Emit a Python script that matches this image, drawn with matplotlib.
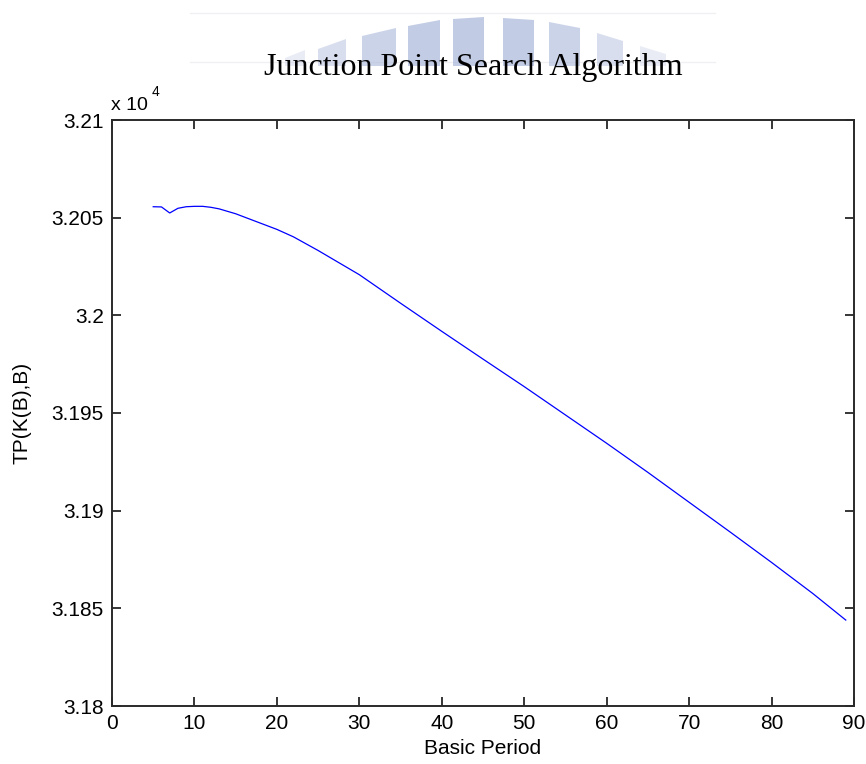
import matplotlib.pyplot as plt
from matplotlib.patches import Polygon
from matplotlib.ticker import FuncFormatter

# Basic period B vs. total profit TP(K(B),B)
basic_period = [5, 6, 7, 8, 9, 10, 11, 12, 13, 15, 17, 20, 22, 25, 30,
                35, 40, 45, 50, 55, 60, 65, 70, 75, 80, 85, 89]
total_profit = [32055.6, 32055.5, 32052.4, 32054.8, 32055.6, 32055.8, 32055.8,
                32055.3, 32054.5, 32052.0, 32048.8, 32044.0, 32040.2, 32033.2,
                32020.8, 32006.2, 31991.8, 31977.6, 31963.5, 31949.0, 31934.5,
                31919.6, 31904.3, 31889.0, 31873.5, 31857.6, 31844.0]

x_ticks = list(range(0, 91, 10))
y_ticks = [31800, 31850, 31900, 31950, 32000, 32050, 32100]

W, H = 866, 764
fig = plt.figure(figsize=(W / 100, H / 100), dpi=100)


def px(x, y):
    return (x / W, 1 - y / H)


# faint logo fan behind the title
fan = [
    (285, 305, 54, 4, 0.25),
    (318, 346, 44, 5, 0.45),
    (362, 396, 32, 4, 0.60),
    (408, 440, 23, 3, 0.70),
    (453, 484, 18, 1, 0.72),
    (503, 534, 19, -1, 0.70),
    (549, 580, 25, -3, 0.60),
    (597, 623, 37, -4, 0.45),
    (640, 666, 50, -4, 0.25),
]
for x0, x1, top, skew, a in fan:
    pts = [px(x0, 66), px(x1, 66), px(x1, top - skew), px(x0, top + skew)]
    fig.patches.append(Polygon(pts, closed=True, transform=fig.transFigure,
                               facecolor='#a9b7da', edgecolor='none', alpha=a,
                               zorder=0))
for yl in (13, 62):
    fig.add_artist(plt.Line2D([190 / W, 715 / W], [1 - yl / H] * 2,
                              transform=fig.transFigure, color='#f0f0f4',
                              lw=1.0, zorder=0))

fig.text(473 / W, 1 - 68 / H, 'Junction Point Search Algorithm',
         family='Liberation Serif', fontsize=23, ha='center', va='center')

ax = fig.add_axes([112 / W, 1 - 706 / H, 742 / W, 586 / H])
ax.plot(basic_period, total_profit, color='#0000ff', lw=0.9)

ax.set_xlim(0, 90)
ax.set_ylim(31800, 32100)
ax.set_xticks(x_ticks)
ax.set_yticks(y_ticks)
ax.yaxis.set_major_formatter(FuncFormatter(lambda v, p: f'{v / 1e4:g}'))

for s in ax.spines.values():
    s.set_linewidth(1.4)
    s.set_color('#2a2a2a')
ax.tick_params(direction='in', length=6.5, width=1.1, top=True, right=True,
               labelsize=15, colors='black')
ax.tick_params(axis='x', pad=6)
ax.tick_params(axis='y', pad=6)
for lab in ax.get_xticklabels() + ax.get_yticklabels():
    lab.set_family('Liberation Sans')

ax.set_xlabel('Basic Period', family='Liberation Sans', fontsize=15,
              labelpad=4)
ax.set_ylabel('TP(K(B),B)', family='Liberation Sans', fontsize=15,
              labelpad=14)

# exponent note above the y axis
fig.text(111 / W, 1 - 110 / H, 'x 10', family='Liberation Sans',
         fontsize=14, ha='left', va='baseline')
fig.text(152 / W, 1 - 96 / H, '4', family='Liberation Sans',
         fontsize=10, ha='left', va='baseline')

fig.savefig('out.png', dpi=100)
